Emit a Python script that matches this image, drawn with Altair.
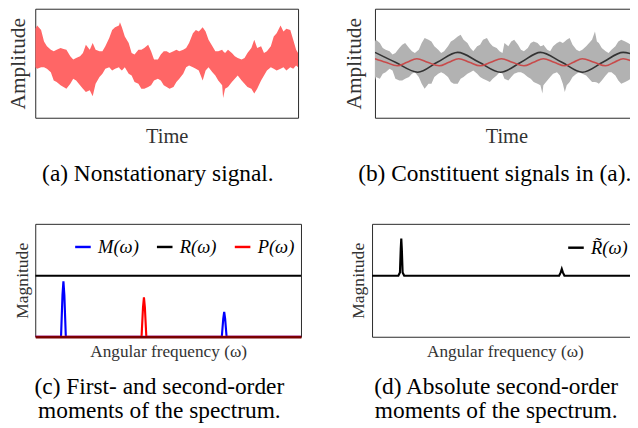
import altair as alt
import pandas as pd

SERIF = "Liberation Serif, Times New Roman, serif"

# ---------- (a) nonstationary signal: envelope of the dense trace ----------
a_t = [0, 2, 6, 9, 12, 16, 19, 22, 26, 29, 32, 36, 39, 42, 46, 49, 52, 56, 59, 62,
       66, 69, 72, 76, 79, 82, 86, 87, 89, 92, 96, 99, 102, 106, 109, 112, 116, 119, 122, 126,
       129, 132, 135,
       138, 142, 145, 148, 152, 155, 158, 162, 165, 168, 172, 175, 178, 182, 185, 188, 192, 193, 195, 198,
       202, 205, 208, 212, 215, 218, 222, 225, 228, 232, 235, 238, 242, 245, 248, 252, 255, 258, 262, 265,
       268, 270]
a_upper = [0.60, 0.66, 0.58, 0.37, 0.28, 0.22, 0.19, 0.22, 0.25, 0.23, 0.22, 0.10, 0.04, 0.07, 0.10, 0.16, 0.31, 0.22, 0.34, 0.22,
           0.19, 0.19, 0.28, 0.43, 0.58, 0.63, 0.66, 0.72, 0.63, 0.46, 0.34, 0.16, 0.13, 0.22, 0.22, 0.25, 0.31, 0.19, 0.04, 0.04,
           0.13, 0.19, 0.19,
           0.16, 0.19, 0.22, 0.19, 0.22, 0.25, 0.34, 0.52, 0.58, 0.55, 0.63, 0.55, 0.40, 0.28, 0.19, 0.19, 0.22, 0.19, 0.16, 0.22,
           0.16, 0.10, 0.07, 0.04, 0.07, 0.16, 0.25, 0.40, 0.25, 0.28, 0.16, 0.19, 0.28, 0.46, 0.52, 0.66, 0.55, 0.60, 0.58, 0.40,
           0.22, 0.16]
a_lower = [-0.10, -0.13, -0.10, -0.10, -0.13, -0.19, -0.34, -0.37, -0.43, -0.46, -0.49, -0.40, -0.31, -0.34, -0.43, -0.49, -0.55, -0.52, -0.63, -0.40,
           -0.28, -0.22, -0.13, -0.10, -0.16, -0.13, -0.10, -0.13, -0.16, -0.10, -0.22, -0.25, -0.37, -0.40, -0.49, -0.49, -0.46, -0.43, -0.34, -0.31,
           -0.34, -0.43, -0.46,
           -0.49, -0.46, -0.37, -0.31, -0.22, -0.10, -0.07, -0.10, -0.13, -0.16, -0.34, -0.16, -0.10, -0.19, -0.25, -0.34, -0.43, -0.66, -0.49, -0.46,
           -0.37, -0.31, -0.25, -0.34, -0.40, -0.46, -0.49, -0.58, -0.49, -0.34, -0.25, -0.16, -0.10, -0.13, -0.16, -0.13, -0.10, -0.16, -0.10, -0.13,
           -0.07, -0.10]

# ---------- (b) constituent signals ----------
b_t = [0, 1, 5, 8, 11, 15, 18, 21, 25, 28, 31, 35, 38, 41, 45, 48, 51, 55, 58, 61,
       65, 68, 71, 75, 78, 81, 85, 88, 91, 95, 98, 101, 105, 108, 111, 115, 118, 121, 125, 128, 131,
       133, 137, 140, 143, 147, 150, 153, 157, 160, 163, 167, 170, 172, 173, 177, 180, 183, 187, 190, 193,
       195, 197, 200, 203, 207, 210, 213, 217, 220, 223, 226, 228, 230, 233, 237, 240, 243, 247, 250, 253,
       257, 260, 263, 266]
b_upper = [0.37, 0.40, 0.34, 0.25, 0.22, 0.19, 0.13, 0.16, 0.25, 0.31, 0.34, 0.25, 0.19, 0.16, 0.22, 0.34, 0.43, 0.40, 0.37, 0.28,
           0.22, 0.16, 0.19, 0.28, 0.37, 0.40, 0.46, 0.49, 0.40, 0.34, 0.25, 0.19, 0.28, 0.31, 0.40, 0.43, 0.34, 0.28, 0.25, 0.19, 0.16,
           0.34, 0.28, 0.37, 0.40, 0.31, 0.22, 0.19, 0.25, 0.34, 0.37, 0.34, 0.28, 0.29, 0.31, 0.22, 0.19, 0.28, 0.34, 0.37, 0.34,
           0.37, 0.40, 0.43, 0.31, 0.22, 0.19, 0.22, 0.28, 0.34, 0.40, 0.55, 0.37, 0.34, 0.25, 0.19, 0.16, 0.22, 0.28, 0.37, 0.40,
           0.37, 0.34, 0.31, 0.28]
b_lower = [-0.34, -0.28, -0.31, -0.22, -0.19, -0.13, -0.16, -0.31, -0.34, -0.34, -0.31, -0.28, -0.22, -0.19, -0.28, -0.40, -0.49, -0.40, -0.40, -0.28,
           -0.22, -0.19, -0.22, -0.28, -0.37, -0.40, -0.40, -0.31, -0.28, -0.22, -0.19, -0.16, -0.22, -0.28, -0.31, -0.34, -0.37, -0.31, -0.25, -0.19, -0.22,
           -0.31, -0.34, -0.28, -0.22, -0.19, -0.19, -0.22, -0.28, -0.31, -0.37, -0.40, -0.43, -0.58, -0.43, -0.34, -0.28, -0.22, -0.19, -0.25, -0.40,
           -0.55, -0.43, -0.37, -0.28, -0.22, -0.19, -0.22, -0.25, -0.31, -0.37, -0.37, -0.38, -0.40, -0.34, -0.25, -0.19, -0.19, -0.25, -0.34, -0.40,
           -0.37, -0.34, -0.31, -0.28]
slow_t = [0, 21, 44, 64, 85, 107, 129, 150, 170, 192, 213, 234, 255, 266]
slow_v = [0.17, -0.01, -0.19, -0.01, 0.17, -0.01, -0.19, -0.01, 0.17, -0.01, -0.19, -0.01, 0.17, 0.13]
fast_t = [0, 11, 23, 33, 43, 54, 66, 76, 86, 97, 108, 119, 130, 141, 153, 163, 173, 184, 195, 204,
          213, 225, 237, 246, 255, 266]
fast_v = [0.056, -0.009, -0.074, -0.009, 0.056, -0.009, -0.074, -0.009, 0.056, -0.009, -0.074, -0.009, 0.056, -0.009,
          -0.074, -0.009, 0.056, -0.009, -0.074, -0.009, 0.056, -0.009, -0.074, -0.009, 0.056, -0.009]

# ---------- (c) first- and second-order moments ----------
c_series = ["M(ω)", "R(ω)", "P(ω)"]
c_colors = ["#0000FF", "#000000", "#FF0000"]
m_w = [0, 9.7, 10.25, 10.6, 10.95, 11.5, 70.2, 70.75, 71.1, 71.45, 72.0, 100]
m_v = [0, 0, 0.37, 0.49, 0.37, 0, 0, 0.16, 0.22, 0.16, 0, 0]
p_w = [0, 40.0, 40.55, 40.9, 41.25, 41.8, 100]
p_v = [0, 0, 0.26, 0.35, 0.26, 0, 0]
r_w = [0, 100]
r_v = [0.54, 0.54]

# ---------- (d) absolute second-order moments ----------
d_series = ["R̃(ω)"]
rt_w = [0, 9.9, 10.5, 10.8, 11.0, 11.2, 11.5, 12.1, 70.4, 71.0, 71.4, 71.8, 72.4, 100]
rt_v = [0.54, 0.54, 0.57, 0.78, 0.87, 0.78, 0.57, 0.54, 0.54, 0.57, 0.60, 0.57, 0.54, 0.54]


def ax(title, size, pad, **kw):
    opts = dict(title=title, labels=False, ticks=False, domain=False, grid=False,
                titleFont=SERIF, titleFontSize=size, titleFontWeight="normal",
                titlePadding=pad, titleColor="#333333")
    opts.update(kw)
    return alt.Axis(**opts)


def caption(text, dx, offset):
    return alt.TitleParams(text=text, orient="bottom", anchor="middle", frame="group",
                           font=SERIF, fontSize=24, fontWeight="normal", color="black",
                           dx=dx, offset=offset, lineHeight=24.5)


# panel (a)
ta = alt.Scale(domain=[0, 270], nice=False, zero=False)
ya = alt.Scale(domain=[-1.02, 0.965], nice=False, zero=False)
panel_a = alt.Chart(pd.DataFrame({"t": a_t, "hi": a_upper, "lo": a_lower})).mark_area(
    color="#FF6666", opacity=1, clip=True
).encode(
    x=alt.X("t:Q", scale=ta, axis=ax("Time", 21, 8)),
    y=alt.Y("hi:Q", scale=ya, axis=ax("Amplitude", 22, 6)),
    y2="lo:Q",
).properties(width=270, height=112, title=caption("(a) Nonstationary signal.", -9, 17))

# panel (b)
tb = alt.Scale(domain=[0, 270], nice=False, zero=False)
noise_b = alt.Chart(pd.DataFrame({"t": b_t, "hi": b_upper, "lo": b_lower})).mark_area(
    color="#B2B2B2", opacity=1, clip=True
).encode(
    x=alt.X("t:Q", scale=tb, axis=ax("Time", 21, 8)),
    y=alt.Y("hi:Q", scale=ya, axis=ax("Amplitude", 22, 9.5)),
    y2="lo:Q",
)
slow_b = alt.Chart(pd.DataFrame({"t": slow_t, "v": slow_v})).mark_line(
    color="#333333", strokeWidth=1.6, interpolate="monotone", clip=True
).encode(x=alt.X("t:Q", scale=tb), y=alt.Y("v:Q", scale=ya))
fast_b = alt.Chart(pd.DataFrame({"t": fast_t, "v": fast_v})).mark_line(
    color="#C84B4B", strokeWidth=1.6, interpolate="monotone", clip=True
).encode(x=alt.X("t:Q", scale=tb), y=alt.Y("v:Q", scale=ya))
panel_b = alt.layer(noise_b, slow_b, fast_b).properties(
    width=270, height=112, title=caption("(b) Constituent signals in (a).", -12, 17))

# panel (c)
wc = alt.Scale(domain=[0, 100], nice=False, zero=False)
yc = alt.Scale(domain=[0, 1], nice=False)
col_c = alt.Scale(domain=c_series, range=c_colors)
leg_c = alt.Legend(orient="none", legendX=39.5, legendY=14, direction="horizontal", title=None,
                   symbolType="stroke", symbolSize=256, symbolStrokeWidth=2.5,
                   labelFont=SERIF, labelFontStyle="italic", labelFontSize=19, labelColor="black",
                   labelOffset=6, columnPadding=13, padding=0)
df_r = pd.DataFrame({"w": r_w, "v": r_v, "s": c_series[1]})
df_m = pd.DataFrame({"w": m_w, "v": m_v, "s": c_series[0]})
df_p = pd.DataFrame({"w": p_w, "v": p_v, "s": c_series[2]})

x_c_axis = ax("Angular frequency (ω)", 17.7, 6, domain=True, domainColor="#7A0000",
              domainWidth=2.5, zindex=1)
y_c_axis = ax("Magnitude", 18, 4)


def c_layer(df, first=False):
    if first:
        x = alt.X("w:Q", scale=wc, axis=x_c_axis)
        y = alt.Y("v:Q", scale=yc, axis=y_c_axis)
    else:
        x = alt.X("w:Q", scale=wc)
        y = alt.Y("v:Q", scale=yc)
    return alt.Chart(df).mark_line(strokeWidth=2.2, clip=True).encode(
        x=x, y=y, color=alt.Color("s:N", scale=col_c, legend=leg_c))


panel_c = alt.layer(c_layer(df_r, True), c_layer(df_m), c_layer(df_p)).properties(
    width=273, height=116,
    title=caption(["(c) First- and second-order", "moments of the spectrum."], -9, 16))

# panel (d)
wd = alt.Scale(domain=[0, 100], nice=False, zero=False)
leg_d = alt.Legend(orient="none", legendX=200, legendY=15, direction="horizontal", title=None,
                   symbolType="stroke", symbolSize=256, symbolStrokeWidth=2.5,
                   labelFont=SERIF, labelFontStyle="italic", labelFontSize=19, labelColor="black",
                   labelOffset=6, padding=0)
panel_d = alt.Chart(pd.DataFrame({"w": rt_w, "v": rt_v, "s": d_series[0]})).mark_line(
    strokeWidth=2.2, clip=True
).encode(
    x=alt.X("w:Q", scale=wd, axis=ax("Angular frequency (ω)", 17.7, 6)),
    y=alt.Y("v:Q", scale=yc, axis=ax("Magnitude", 18, 5)),
    color=alt.Color("s:N", scale=alt.Scale(domain=d_series, range=["#000000"]), legend=leg_d),
).properties(width=273, height=116,
             title=caption(["(d) Absolute second-order", "moments of the spectrum."], -9, 16))

row1 = alt.hconcat(panel_a, panel_b, spacing=45)
row2 = alt.hconcat(panel_c, panel_d, spacing=48).resolve_scale(color="independent").resolve_legend(color="independent")

chart = alt.vconcat(row1, row2, spacing=37).resolve_scale(color="independent").resolve_legend(
    color="independent"
).properties(
    padding={"top": -6, "left": -2, "right": -9, "bottom": 0}, background="white"
).configure_title(font=SERIF).configure_view(stroke="#262626", strokeWidth=1)

chart.save("out.html", embed_options={"renderer": "svg", "actions": False})
